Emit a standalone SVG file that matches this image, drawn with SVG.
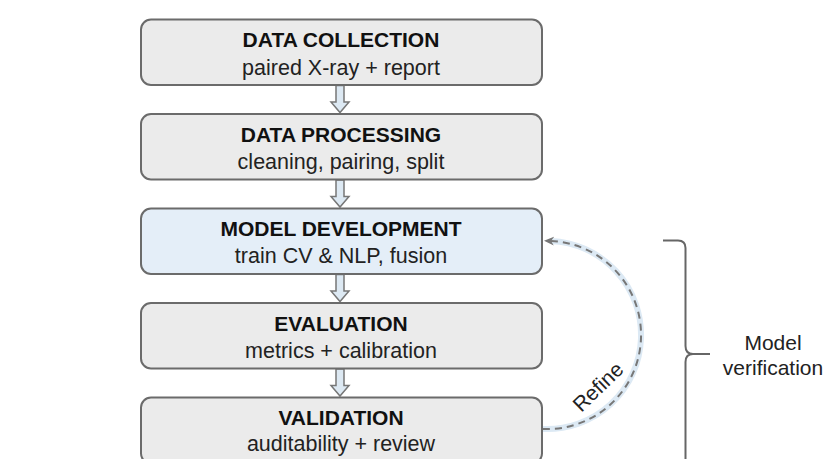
<svg xmlns="http://www.w3.org/2000/svg" width="827" height="459" viewBox="0 0 827 459">
  <style>
    .box { stroke: #6b6b6b; stroke-width: 2; }
    .grey { fill: #ebebeb; }
    .blue { fill: #e4eef8; }
    .title { font-family: "Liberation Sans", Arial, sans-serif; font-size: 21px; font-weight: bold; fill: #111; text-anchor: middle; }
    .sub { font-family: "Liberation Sans", Arial, sans-serif; font-size: 21.5px; fill: #222; text-anchor: middle; }
    .label { font-family: "Liberation Sans", Arial, sans-serif; font-size: 21px; fill: #222; text-anchor: middle; }
    .flow { fill: #dde9f3; stroke: #777; stroke-width: 1.5; stroke-linejoin: miter; }
    .halo { fill: none; stroke: #dce9f4; stroke-width: 6; }
    .dash { fill: none; stroke: #777; stroke-width: 2; stroke-dasharray: 7 5; }
    .brace { fill: none; stroke: #666; stroke-width: 2; }
  </style>
  <defs>
    <path id="blockArrow" d="M -4 0 L 4 0 L 4 16.5 L 9 16.5 L 0 27 L -9 16.5 L -4 16.5 Z"/>
    <marker id="arrowHead" viewBox="0 0 10 10" refX="3" refY="5" markerWidth="10" markerHeight="10" markerUnits="userSpaceOnUse" orient="auto">
      <path d="M 0 0.5 L 10 5 L 0 9.5 L 3 5 Z" fill="#777"/>
    </marker>
  </defs>
  <rect width="827" height="459" fill="#ffffff"/>

  <g id="connectors">
    <use href="#blockArrow" class="flow" x="340" y="85.5"/>
    <use href="#blockArrow" class="flow" x="340" y="180"/>
    <use href="#blockArrow" class="flow" x="340" y="274.5"/>
    <use href="#blockArrow" class="flow" x="340" y="369"/>
    <path class="halo" d="M 543 429 A 94 94 0 0 0 551 241"/>
    <path class="dash" d="M 543 429 A 94 94 0 0 0 551 241" marker-end="url(#arrowHead)"/>
    <text class="label" transform="translate(603,392) rotate(-44)">Refine</text>
  </g>

  <g id="data-collection">
    <rect class="box grey" x="141" y="19.5" width="401" height="65.5" rx="10"/>
    <text class="title" x="341" y="47">DATA COLLECTION</text>
    <text class="sub" x="341" y="74.5">paired X-ray + report</text>
  </g>
  <g id="data-processing">
    <rect class="box grey" x="141" y="114" width="401" height="65.5" rx="10"/>
    <text class="title" x="341" y="141.5">DATA PROCESSING</text>
    <text class="sub" x="341" y="168.5">cleaning, pairing, split</text>
  </g>
  <g id="model-development">
    <rect class="box blue" x="141" y="208.5" width="401" height="65.5" rx="10"/>
    <text class="title" x="341" y="236">MODEL DEVELOPMENT</text>
    <text class="sub" x="341" y="263">train CV &amp; NLP, fusion</text>
  </g>
  <g id="evaluation">
    <rect class="box grey" x="141" y="303" width="401" height="65.5" rx="10"/>
    <text class="title" x="341" y="330.5">EVALUATION</text>
    <text class="sub" x="341" y="357.5">metrics + calibration</text>
  </g>
  <g id="validation">
    <rect class="box grey" x="141" y="397.5" width="401" height="66" rx="10"/>
    <text class="title" x="341" y="425">VALIDATION</text>
    <text class="sub" x="341" y="451">auditability + review</text>
  </g>

  <g id="model-verification">
    <path class="brace" d="M 663 240.5 L 678 240.5 Q 685.5 240.5 685.5 248 L 685.5 346 Q 685.5 354 693 354 L 710 354 M 693 354 Q 685.5 354 685.5 362 L 685.5 465"/>
    <text class="label" x="773" y="350">Model</text>
    <text class="label" x="773" y="375">verification</text>
  </g>
</svg>
